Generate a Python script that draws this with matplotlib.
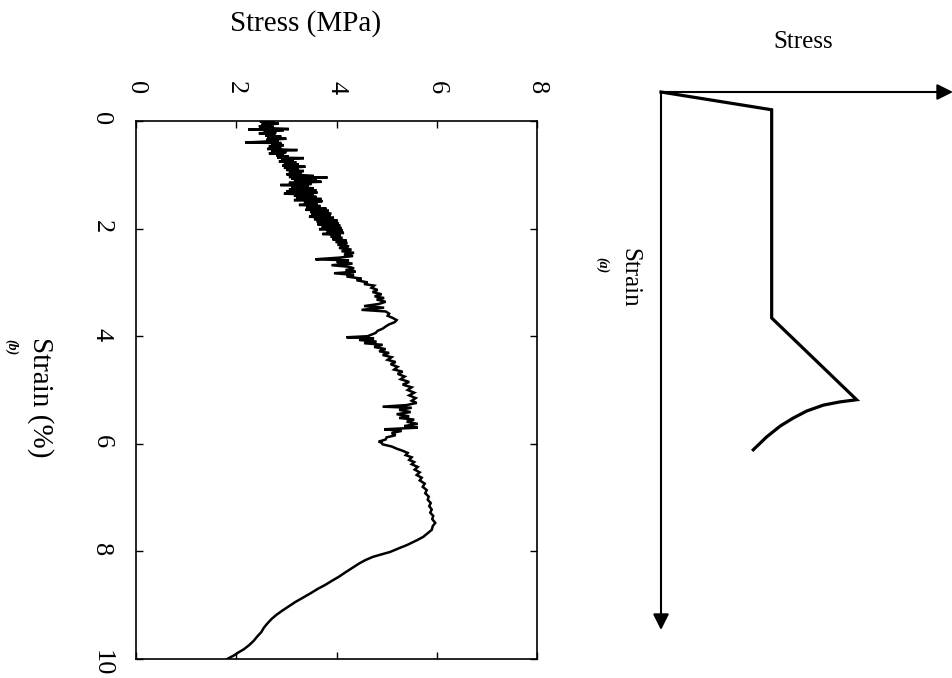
"""
plot.py - fibre-reinforced sample under tension: measured stress-strain record
(b) next to the idealised stress-strain schematic (a). The sheet is laid out
turned a quarter turn clockwise, so strain runs downward and stress to the right.

Output: out.png (952x678 px)
"""
import matplotlib
matplotlib.use("Agg")
import matplotlib.pyplot as plt

plt.rcParams["font.family"] = ["Liberation Serif", "DejaVu Serif"]

FIG_W, FIG_H = 952, 678

# ---- measured record (b): strain (%) and stress (MPa), read point by point ----
STRAIN = [
    0.00, 0.01, 0.02, 0.04, 0.05, 0.07, 0.08, 0.10, 0.11, 0.13,
    0.15, 0.16, 0.17, 0.19, 0.21, 0.23, 0.25, 0.27, 0.29, 0.31,
    0.33, 0.35, 0.37, 0.40, 0.41, 0.43, 0.45, 0.47, 0.49, 0.52,
    0.54, 0.56, 0.58, 0.60, 0.62, 0.64, 0.66, 0.68, 0.69, 0.71,
    0.73, 0.75, 0.77, 0.79, 0.81, 0.83, 0.85, 0.87, 0.89, 0.91,
    0.93, 0.95, 0.97, 0.99, 1.02, 1.04, 1.05, 1.07, 1.09, 1.11,
    1.13, 1.15, 1.17, 1.19, 1.21, 1.23, 1.25, 1.27, 1.29, 1.31,
    1.33, 1.35, 1.37, 1.39, 1.41, 1.43, 1.45, 1.47, 1.49, 1.52,
    1.54, 1.56, 1.58, 1.61, 1.63, 1.65, 1.67, 1.69, 1.72, 1.74,
    1.76, 1.78, 1.80, 1.83, 1.85, 1.87, 1.90, 1.92, 1.94, 1.97,
    1.99, 2.01, 2.03, 2.06, 2.08, 2.10, 2.12, 2.15, 2.17, 2.20,
    2.22, 2.25, 2.27, 2.30, 2.33, 2.36, 2.39, 2.42, 2.45, 2.48,
    2.51, 2.54, 2.57, 2.59, 2.62, 2.65, 2.68, 2.71, 2.74, 2.77,
    2.80, 2.83, 2.86, 2.89, 2.93, 2.96, 3.00, 3.03, 3.06, 3.10,
    3.14, 3.18, 3.22, 3.26, 3.29, 3.32, 3.36, 3.40, 3.44, 3.47,
    3.51, 3.54, 3.58, 3.62, 3.66, 3.70, 3.74, 3.78, 3.82, 3.86,
    3.90, 3.94, 3.97, 4.00, 4.02, 4.04, 4.07, 4.10, 4.13, 4.16,
    4.20, 4.24, 4.28, 4.31, 4.35, 4.39, 4.44, 4.48, 4.52, 4.57,
    4.62, 4.66, 4.70, 4.75, 4.80, 4.85, 4.90, 4.95, 5.00, 5.05,
    5.10, 5.15, 5.20, 5.24, 5.28, 5.31, 5.33, 5.37, 5.41, 5.45,
    5.49, 5.52, 5.55, 5.59, 5.63, 5.67, 5.70, 5.73, 5.76, 5.80,
    5.84, 5.88, 5.92, 5.96, 5.98, 6.01, 6.05, 6.09, 6.13, 6.17,
    6.21, 6.25, 6.30, 6.34, 6.38, 6.43, 6.48, 6.53, 6.58, 6.63,
    6.68, 6.74, 6.80, 6.86, 6.92, 6.98, 7.04, 7.10, 7.16, 7.22,
    7.28, 7.34, 7.40, 7.47, 7.53, 7.60, 7.66, 7.73, 7.79, 7.84,
    7.88, 7.94, 8.01, 8.06, 8.10, 8.16, 8.22, 8.28, 8.34, 8.40,
    8.47, 8.54, 8.62, 8.70, 8.78, 8.86, 8.94, 9.02, 9.10, 9.18,
    9.26, 9.34, 9.42, 9.50, 9.58, 9.66, 9.74, 9.82, 9.88, 9.93,
    9.97, 10.00,
]
STRESS = [
    2.62, 2.47, 2.77, 2.55, 2.85, 2.50, 2.70, 2.45, 2.75, 2.60,
    3.05, 2.24, 2.95, 2.55, 2.80, 2.45, 2.78, 2.58, 2.90, 2.62,
    3.00, 2.60, 2.85, 2.18, 2.90, 2.70, 2.95, 2.65, 2.90, 2.62,
    3.22, 2.70, 3.00, 2.65, 2.95, 2.80, 3.05, 2.82, 3.35, 2.90,
    3.15, 2.85, 3.20, 2.95, 3.25, 2.92, 3.38, 2.95, 3.25, 3.00,
    3.35, 3.05, 3.30, 3.00, 3.55, 3.05, 3.82, 3.10, 3.60, 3.15,
    3.70, 3.05, 3.50, 2.88, 3.45, 3.10, 3.55, 3.05, 3.60, 3.00,
    3.62, 2.95, 3.55, 3.15, 3.60, 3.20, 3.70, 3.15, 3.72, 3.35,
    3.62, 3.25, 3.68, 3.40, 3.80, 3.38, 3.85, 3.48, 3.90, 3.50,
    3.88, 3.45, 3.95, 3.55, 4.02, 3.60, 4.05, 3.62, 4.08, 3.70,
    4.10, 3.65, 4.12, 3.80, 4.15, 3.72, 4.08, 3.88, 4.12, 3.92,
    4.20, 3.98, 4.22, 4.02, 4.25, 4.05, 4.30, 4.10, 4.35, 4.15,
    4.33, 4.05, 3.58, 4.25, 4.00, 4.32, 3.90, 4.25, 4.35, 4.18,
    4.38, 3.95, 4.35, 4.20, 4.50, 4.40, 4.62, 4.55, 4.75, 4.70,
    4.82, 4.72, 4.90, 4.76, 4.95, 4.80, 4.98, 4.85, 4.55, 4.95,
    4.50, 4.98, 5.05, 5.02, 5.12, 5.20, 5.16, 5.05, 4.98, 4.92,
    4.82, 4.78, 4.70, 4.62, 4.20, 4.75, 4.45, 4.80, 4.55, 4.92,
    4.75, 4.98, 4.85, 5.05, 4.92, 5.10, 5.02, 5.18, 5.08, 5.22,
    5.15, 5.32, 5.22, 5.36, 5.28, 5.45, 5.32, 5.50, 5.42, 5.55,
    5.45, 5.58, 5.50, 5.60, 5.40, 4.92, 5.50, 5.25, 5.48, 5.20,
    5.45, 5.25, 5.55, 5.40, 5.62, 5.35, 5.62, 4.95, 5.30, 5.10,
    5.18, 5.00, 4.98, 4.84, 4.90, 4.92, 5.10, 5.20, 5.32, 5.42,
    5.38, 5.50, 5.45, 5.55, 5.50, 5.62, 5.56, 5.66, 5.60, 5.70,
    5.66, 5.76, 5.72, 5.80, 5.77, 5.84, 5.82, 5.88, 5.85, 5.90,
    5.87, 5.93, 5.91, 5.97, 5.92, 5.90, 5.82, 5.73, 5.61, 5.50,
    5.41, 5.25, 5.07, 4.88, 4.73, 4.58, 4.46, 4.36, 4.26, 4.16,
    4.05, 3.92, 3.78, 3.62, 3.48, 3.33, 3.18, 3.05, 2.92, 2.80,
    2.70, 2.62, 2.55, 2.50, 2.42, 2.35, 2.26, 2.15, 2.04, 1.96,
    1.88, 1.82,
]

STRESS_TICKS = [0, 2, 4, 6, 8]
STRAIN_TICKS = [0, 2, 4, 6, 8, 10]

# ---- idealised curve (a), in fractions of the schematic axis lengths ----
# elastic rise, plateau of multiple cracking, hardening, then softening
SKETCH_STRESS = [0.0, 0.379, 0.379, 0.670, 0.613, 0.556, 0.499, 0.453,
                 0.408, 0.362, 0.316]
SKETCH_STRAIN = [0.0, 0.033, 0.420, 0.572, 0.576, 0.582, 0.593, 0.606,
                 0.621, 0.641, 0.665]


def px_box(x0, y0, x1, y1):
    """pixel box (top-left origin) -> figure fraction rect"""
    return [x0 / FIG_W, 1 - y1 / FIG_H, (x1 - x0) / FIG_W, (y1 - y0) / FIG_H]


def main():
    fig = plt.figure(figsize=(FIG_W / 100, FIG_H / 100), dpi=100)

    # ---- (b) measured record ----
    ax = fig.add_axes(px_box(136, 121, 537, 659))
    ax.plot(STRESS, STRAIN, color="black", lw=1.8, solid_joinstyle="miter")
    ax.set_xlim(0, 8)
    ax.set_ylim(10, 0)
    ax.xaxis.tick_top()
    ax.set_xticks(STRESS_TICKS)
    ax.set_yticks(STRAIN_TICKS)
    ax.set_xticklabels([str(v) for v in STRESS_TICKS], rotation=-90,
                       fontsize=19)
    ax.set_yticklabels([str(v) for v in STRAIN_TICKS], rotation=-90,
                       fontsize=19)
    ax.tick_params(axis="both", direction="in", length=5, width=1.0,
                   top=True, bottom=True, left=True, right=True)
    ax.tick_params(axis="x", pad=19)
    ax.tick_params(axis="y", pad=17)
    for sp in ax.spines.values():
        sp.set_linewidth(1.2)

    fig.text(306 / FIG_W, 1 - 24 / FIG_H, "Stress (MPa)", fontsize=21,
             ha="center", va="center")
    fig.text(40 / FIG_W, 1 - 397 / FIG_H, "Strain (%)", fontsize=21,
             rotation=-90, ha="center", va="center")
    fig.text(11 / FIG_W, 1 - 347 / FIG_H, "(b)", fontsize=10, rotation=-90,
             style="italic", weight="bold", ha="center", va="center")

    # ---- (a) schematic ----
    sk = fig.add_axes(px_box(661, 92, 953, 630))
    sk.set_xlim(0, 1)
    sk.set_ylim(1, 0)
    sk.axis("off")
    arrow = dict(arrowstyle="-|>", lw=1.5, color="black", mutation_scale=24,
                 shrinkA=0, shrinkB=0)
    sk.annotate("", xy=(1, 0), xytext=(0, 0), arrowprops=arrow,
                annotation_clip=False)
    sk.annotate("", xy=(0, 1), xytext=(0, 0), arrowprops=arrow,
                annotation_clip=False)
    sk.plot(SKETCH_STRESS, SKETCH_STRAIN, color="black", lw=2.3,
            solid_joinstyle="miter", clip_on=False)

    fig.text(803 / FIG_W, 1 - 42 / FIG_H, "Stress", fontsize=18,
             ha="center", va="center")
    fig.text(629 / FIG_W, 1 - 278 / FIG_H, "Strain", fontsize=18,
             rotation=-90, ha="center", va="center")
    fig.text(602 / FIG_W, 1 - 265 / FIG_H, "(a)", fontsize=10, rotation=-90,
             style="italic", weight="bold", ha="center", va="center")

    fig.savefig("out.png", dpi=100, facecolor="white")


if __name__ == "__main__":
    main()
